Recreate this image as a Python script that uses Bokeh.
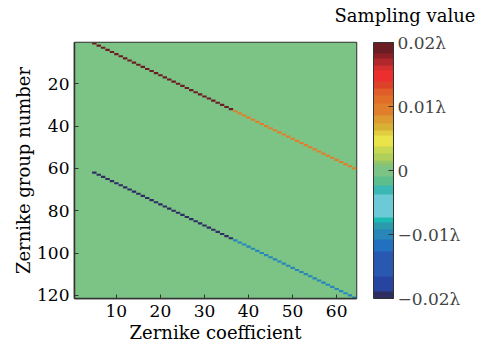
from bokeh.plotting import figure
from bokeh.models import (ColumnDataSource, LinearColorMapper, ColorBar,
                          FixedTicker, Range1d, Title)
from bokeh.embed import file_html
from bokeh.resources import INLINE

# ---------------- data ----------------
n_coefficients = 64
n_groups = 121
# diagonal segments of non-zero sampling values
seg_coef_start = [5, 37, 5, 37]
seg_coef_end = [36, 64, 36, 64]
seg_group_start = [1, 33, 62, 94]
seg_value = [0.02, 0.01, -0.02, -0.01]

x_ticks = [10, 20, 30, 40, 50, 60]
y_ticks = [20, 40, 60, 80, 100, 120]
cbar_ticks = [-0.02, -0.01, 0, 0.01, 0.02]
cbar_tick_labels = ["\u22120.02\u03bb", "\u22120.01\u03bb", "0", "0.01\u03bb", "0.02\u03bb"]
value_low, value_high = -0.02, 0.02

# ---------------- palette (top -> bottom bands) ----------------
band_colors = ["#6b1d24", "#8c1f26", "#b0282c", "#d42e2e", "#ec2e2e", "#dc4228",
               "#e05c28", "#e06e28", "#e07e2c", "#dc9a30", "#d8b034", "#e2cc40",
               "#e8e44a", "#c8d850", "#b0d05a", "#98c866", "#88c276", "#7cc486",
               "#5cbe8c", "#3cb8b4", "#6ccad6", "#1cbab0", "#2a9aac", "#2886b8",
               "#2270c0", "#2858b0", "#2644a0", "#2e2e60"]
band_sizes = [11, 5, 7, 5, 11, 7, 7, 8, 12, 8, 7, 5, 11, 7, 7, 3, 3, 10,
              9, 9, 23, 5, 7, 10, 12, 25, 15, 7]
palette = []
for c, s in zip(band_colors, band_sizes):
    palette += [c] * s
palette = palette[::-1]

FONT = "DejaVu Serif"
DARK = "#333333"

# build cells
cx, cy, cv = [], [], []
for cs, ce, gs, v in zip(seg_coef_start, seg_coef_end, seg_group_start, seg_value):
    for k, c in enumerate(range(cs, ce + 1)):
        cx.append(c)
        cy.append(gs + k)
        cv.append(v)
cells = ColumnDataSource(dict(x=cx, y=cy, v=cv))
bg = ColumnDataSource(dict(l=[0.5], r=[n_coefficients + 0.5],
                           t=[0.5], b=[n_groups + 0.5], v=[0.0]))

mapper = LinearColorMapper(palette=palette, low=value_low, high=value_high)

p = figure(width=483, height=350, output_backend="svg", toolbar_location=None,
           x_range=Range1d(0.5, n_coefficients + 0.5),
           y_range=Range1d(n_groups + 0.5, 0.5),
           min_border_left=74, min_border_right=127, min_border_top=42,
           min_border_bottom=52)
p.background_fill_color = "white"
p.border_fill_color = "white"
p.grid.visible = False
p.outline_line_color = DARK
p.outline_line_width = 1.5

p.quad(left="l", right="r", top="t", bottom="b", source=bg,
       fill_color={"field": "v", "transform": mapper}, line_color=None)
p.rect(x="x", y="y", width=1, height=1, source=cells,
       fill_color={"field": "v", "transform": mapper}, line_color=None)

for ax, ticks in ((p.xaxis, x_ticks), (p.yaxis, y_ticks)):
    ax.ticker = FixedTicker(ticks=ticks)
    ax.major_tick_in = 4
    ax.major_tick_out = 0
    ax.minor_tick_line_color = None
    ax.axis_line_color = DARK
    ax.axis_line_width = 1.5
    ax.major_tick_line_color = DARK
    ax.major_label_text_font = FONT
    ax.major_label_text_font_size = "17px"
    ax.major_label_text_color = "black"
    ax.axis_label_text_font = FONT
    ax.axis_label_text_font_size = "18px"
    ax.axis_label_text_font_style = "normal"
    ax.axis_label_text_color = "black"

p.xaxis.axis_label = "Zernike coefficient"
p.yaxis.axis_label = "Zernike group number"
p.xaxis.major_label_standoff = 6
p.xaxis.axis_label_standoff = 2
p.yaxis.major_label_standoff = 5
p.yaxis.axis_label_standoff = 0

cb = ColorBar(color_mapper=mapper, ticker=FixedTicker(ticks=cbar_ticks),
              major_label_overrides={t: l for t, l in zip(cbar_ticks, cbar_tick_labels)},
              width=20, height=256, location=(17, 0), margin=0, padding=0,
              bar_line_color=DARK, major_tick_line_color=DARK,
              major_tick_in=5, major_tick_out=0, minor_tick_line_color=None,
              label_standoff=4, major_label_text_font=FONT,
              major_label_text_font_size="17px", background_fill_alpha=0)
p.add_layout(cb, "right")

# spacer (nearest the frame) then the colour-bar caption above it
p.add_layout(Title(text=" ", text_font_size="1px", standoff=14), "above")
p.add_layout(Title(text="Sampling value", align="left", offset=260, standoff=0,
                   text_font=FONT, text_font_size="18px", text_font_style="normal",
                   text_color="black"), "above")

open("out.html", "w").write(file_html(p, INLINE))
